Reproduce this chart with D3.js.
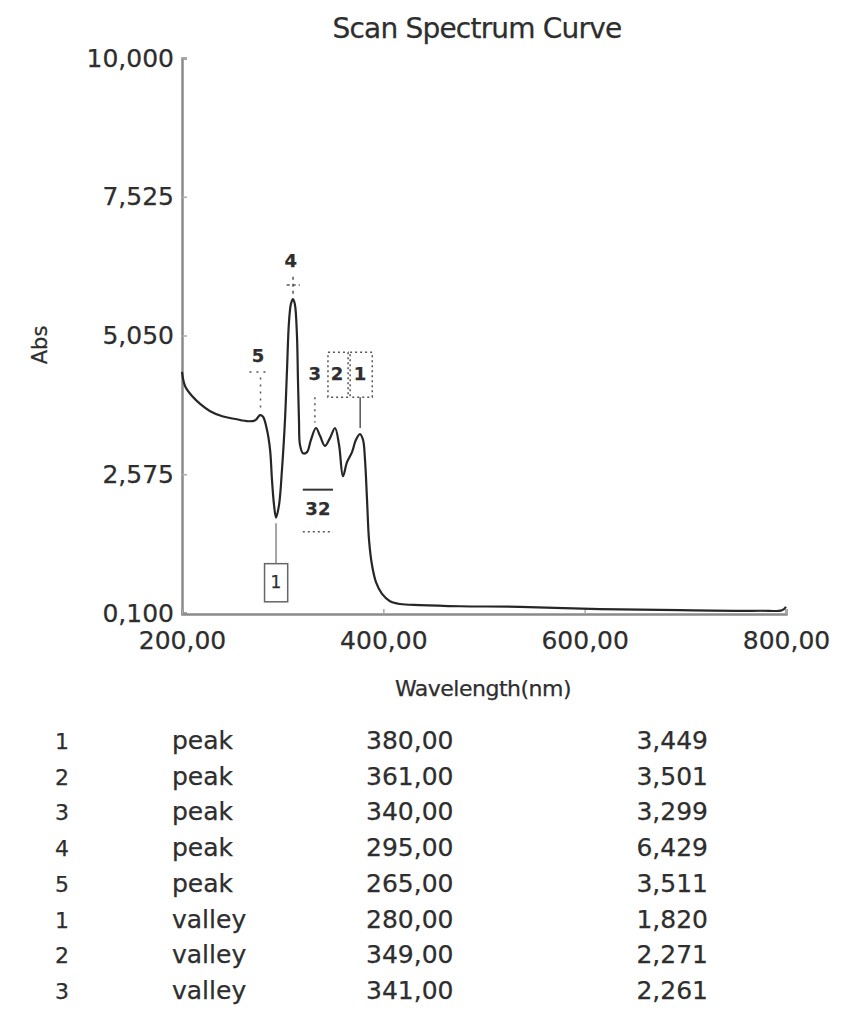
<!DOCTYPE html>
<html>
<head>
<meta charset="utf-8">
<script src="https://cdn.jsdelivr.net/npm/d3@7"></script>
<style>
  body { margin: 0; background: #fff; }
  svg text { font-family: "DejaVu Sans", Verdana, sans-serif; fill: #2e2e2e; stroke: #2e2e2e; stroke-width: 0.25px; }
</style>
</head>
<body>
<div id="chart"></div>
<script>
// spectrum curve (nm, Abs)
var wavelengths = [200, 203, 210, 218, 228, 240, 253, 266, 273, 277.5, 280.5, 284.5, 287.5, 289.4, 291.4, 293.4,
    296.4, 299.3, 302.3, 304.3, 306.3, 308.3, 310.3, 312.2, 314.2, 315.2, 316.2, 317.2, 320.2, 324.2,
    328.1, 333.1, 337.1, 342, 347, 352, 356, 359.9, 363.9, 368.9, 372.8, 376.8, 379.8, 381.8, 383.8,
    385.8, 388.7, 392.7, 398.7, 406.6, 416.5, 436.4, 476.1, 535.7, 615.2, 694.7, 774.2, 796, 800];
var absorbance = [4.40, 4.15, 3.97, 3.83, 3.70, 3.61, 3.56, 3.52, 3.54, 3.63, 3.60, 3.36, 3.01, 2.47, 2.03, 1.80,
    2.03, 2.65, 3.54, 4.43, 5.30, 5.62, 5.70, 5.60, 5.05, 4.26, 3.54, 3.10, 2.95, 2.97,
    3.19, 3.40, 3.26, 3.08, 3.22, 3.40, 3.10, 2.54, 2.79, 2.97, 3.19, 3.29, 3.19, 2.83, 2.12,
    1.40, 0.96, 0.65, 0.44, 0.31, 0.26, 0.24, 0.22, 0.21, 0.17, 0.15, 0.14, 0.15, 0.21];

var yTicks = [0.1, 2.575, 5.05, 7.525, 10];
var xTicks = [200, 400, 600, 800];

// peak / valley table
var rowNums = [1, 2, 3, 4, 5, 1, 2, 3];
var rowTypes = ["peak", "peak", "peak", "peak", "peak", "valley", "valley", "valley"];
var rowWaves = [380, 361, 340, 295, 265, 280, 349, 341];
var rowAbs = [3.449, 3.501, 3.299, 6.429, 3.511, 1.820, 2.271, 2.261];

// marker labels drawn on the plot, placed in data units
var markLabels = ["4", "5", "3", "2", "1", "32"];
var markWave = [308, 275.5, 332, 354, 376.8, 335];
var markAbs = [6.36, 4.67, 4.35, 4.35, 4.35, 1.94];

function init()
{
    var w = 842;
    var h = 1024;

    var locale = d3.formatLocale({ decimal: ",", thousands: ".", grouping: [3], currency: ["", ""] });
    var fmt3 = locale.format(".3f");
    var fmt2 = locale.format(".2f");

    var xScale = d3.scaleLinear()
                    .domain([200, 800])
                    .range([182, 786]);

    var yScale = d3.scaleLinear()
                    .domain([0.1, 10])
                    .range([613, 58]);

    var svg = d3.select("#chart")
                .append("svg")
                .attr("width", w)
                .attr("height", h);

    // title
    svg.append("text")
        .attr("x", 477)
        .attr("y", 38)
        .attr("text-anchor", "middle")
        .attr("font-size", "28px")
        .attr("letter-spacing", "-0.8px")
        .text("Scan Spectrum Curve");

    // axes
    var yAxis = d3.axisLeft(yScale)
                  .tickValues(yTicks)
                  .tickSize(-5)
                  .tickPadding(8)
                  .tickFormat(fmt3);

    var xAxis = d3.axisBottom(xScale)
                  .tickValues(xTicks)
                  .tickSize(-5)
                  .tickPadding(14)
                  .tickFormat(fmt2);

    var gy = svg.append("g")
        .attr("transform", "translate(182,0)")
        .call(yAxis);

    var gx = svg.append("g")
        .attr("transform", "translate(0,614)")
        .call(xAxis);

    svg.selectAll(".domain")
        .attr("stroke", "#8a8a8a")
        .attr("stroke-width", 2.5);
    svg.selectAll(".tick line")
        .attr("stroke", "#aaaaaa")
        .attr("stroke-width", 1.5);
    svg.selectAll(".tick text")
        .attr("font-size", "25px")
        .attr("font-family", "DejaVu Sans, Verdana, sans-serif")
        .attr("fill", "#2e2e2e");
    gx.selectAll(".tick text").attr("dy", "0.85em");

    // axis titles
    svg.append("text")
        .attr("x", 483)
        .attr("y", 696)
        .attr("text-anchor", "middle")
        .attr("font-size", "22px")
        .attr("letter-spacing", "-0.5px")
        .text("Wavelength(nm)");

    svg.append("text")
        .attr("transform", "translate(47,345) rotate(-90)")
        .attr("text-anchor", "middle")
        .attr("font-size", "21px")
        .text("Abs");

    // spectrum line
    var points = wavelengths.map(function(d, i) { return [d, absorbance[i]]; });
    var line = d3.line()
                 .x(function(d) { return xScale(d[0]); })
                 .y(function(d) { return yScale(d[1]); })
                 .curve(d3.curveCatmullRom.alpha(0.5));

    svg.append("path")
        .datum(points)
        .attr("d", line)
        .attr("fill", "none")
        .attr("stroke", "#262626")
        .attr("stroke-width", 2.2);

    // peak / valley markers
    var ann = svg.append("g")
        .attr("stroke", "#555")
        .attr("fill", "none")
        .attr("stroke-width", 1.5);

    // peak 4 leader
    ann.append("line")
        .attr("x1", xScale(310.3)).attr("x2", xScale(310.3))
        .attr("y1", yScale(6.1)).attr("y2", yScale(5.78))
        .attr("stroke-dasharray", "3,4");
    ann.append("line")
        .attr("x1", xScale(304)).attr("x2", xScale(317))
        .attr("y1", yScale(5.95)).attr("y2", yScale(5.95))
        .attr("stroke-dasharray", "3,3");
    // peak 5 dots
    ann.append("line")
        .attr("x1", xScale(267)).attr("x2", xScale(287))
        .attr("y1", yScale(4.4)).attr("y2", yScale(4.4))
        .attr("stroke-dasharray", "2,5");
    ann.append("line")
        .attr("x1", xScale(278)).attr("x2", xScale(278))
        .attr("y1", yScale(4.3)).attr("y2", yScale(3.75))
        .attr("stroke-dasharray", "2,5");
    // boxes around 2 and 1
    ann.append("rect")
        .attr("x", xScale(345)).attr("y", yScale(4.75))
        .attr("width", xScale(365) - xScale(345)).attr("height", yScale(3.95) - yScale(4.75))
        .attr("stroke-dasharray", "2,3");
    ann.append("rect")
        .attr("x", xScale(367)).attr("y", yScale(4.75))
        .attr("width", xScale(389) - xScale(367)).attr("height", yScale(3.95) - yScale(4.75))
        .attr("stroke-dasharray", "2,3");
    ann.append("line")
        .attr("x1", xScale(377)).attr("x2", xScale(377))
        .attr("y1", yScale(3.95)).attr("y2", yScale(3.4));
    ann.append("line")
        .attr("x1", xScale(332)).attr("x2", xScale(332))
        .attr("y1", yScale(3.95)).attr("y2", yScale(3.5))
        .attr("stroke-dasharray", "2,4");
    // valley 3/2 marks
    ann.append("line")
        .attr("x1", xScale(320)).attr("x2", xScale(350))
        .attr("y1", yScale(2.3)).attr("y2", yScale(2.3))
        .attr("stroke", "#333").attr("stroke-width", 2);
    ann.append("line")
        .attr("x1", xScale(320)).attr("x2", xScale(350))
        .attr("y1", yScale(1.55)).attr("y2", yScale(1.55))
        .attr("stroke-dasharray", "2,3");
    // valley 1 box
    ann.append("line")
        .attr("x1", xScale(293.4)).attr("x2", xScale(293.4))
        .attr("y1", yScale(1.7)).attr("y2", yScale(0.98))
        .attr("stroke", "#888");
    ann.append("rect")
        .attr("x", xScale(282)).attr("y", yScale(0.98))
        .attr("width", xScale(305) - xScale(282)).attr("height", yScale(0.3) - yScale(0.98))
        .attr("stroke", "#666");

    svg.selectAll(".mark-label")
        .data(markLabels)
        .enter()
        .append("text")
        .attr("class", "mark-label")
        .attr("x", function(d, i) { return xScale(markWave[i]); })
        .attr("y", function(d, i) { return yScale(markAbs[i]); })
        .attr("text-anchor", "middle")
        .attr("dominant-baseline", "middle")
        .attr("font-size", "18px")
        .attr("font-weight", "bold")
        .attr("fill", "#333")
        .text(function(d) { return d; });

    svg.append("text")
        .attr("x", xScale(293.4))
        .attr("y", yScale(0.64))
        .attr("text-anchor", "middle")
        .attr("dominant-baseline", "middle")
        .attr("font-size", "17px")
        .text("1");

    // table under the chart
    var rowY = d3.scalePoint()
                 .domain(d3.range(rowNums.length))
                 .range([749, 999]);

    var rows = svg.selectAll(".row")
        .data(rowNums)
        .enter()
        .append("g")
        .attr("class", "row")
        .attr("transform", function(d, i) { return "translate(0," + rowY(i) + ")"; })
        .attr("font-size", "25px");

    rows.append("text")
        .attr("x", 62)
        .attr("text-anchor", "middle")
        .attr("font-size", "22px")
        .text(function(d) { return d; });
    rows.append("text")
        .attr("x", 172)
        .text(function(d, i) { return rowTypes[i]; });
    rows.append("text")
        .attr("x", 366)
        .text(function(d, i) { return fmt2(rowWaves[i]); });
    rows.append("text")
        .attr("x", 708)
        .attr("text-anchor", "end")
        .text(function(d, i) { return fmt3(rowAbs[i]); });
}
window.onload = init;
</script>
</body>
</html>
